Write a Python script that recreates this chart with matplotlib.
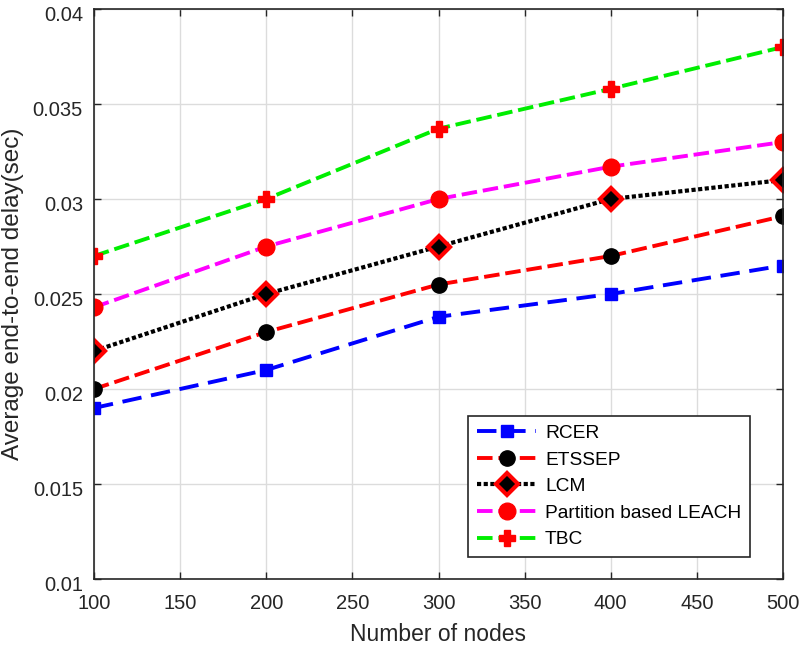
import matplotlib
matplotlib.use('Agg')
import matplotlib.pyplot as plt
import matplotlib.transforms as mtransforms

plt.rcParams['font.family'] = ['Liberation Sans', 'DejaVu Sans']

nodes = [100, 200, 300, 400, 500]
rcer = [0.019, 0.021, 0.0238, 0.025, 0.0265]
etssep = [0.020, 0.023, 0.0255, 0.027, 0.0291]
lcm = [0.022, 0.025, 0.0275, 0.030, 0.031]
partition = [0.0243, 0.0275, 0.030, 0.0317, 0.033]
tbc = [0.027, 0.030, 0.0337, 0.0358, 0.038]
ytick_vals = [0.01, 0.015, 0.02, 0.025, 0.03, 0.035, 0.04]
ytick_labels = ['0.01', '0.015', '0.02', '0.025', '0.03', '0.035', '0.04']

fig = plt.figure(figsize=(8, 6.47), dpi=100)
# axes box: x 94-783 px, y 9-579 px
ax = fig.add_axes([94 / 800, 1 - 579 / 647, 689 / 800, 570 / 647])

ax.plot(nodes, rcer, color='#0000ff', ls=(0, (5, 2.5)), lw=2.8,
        marker='s', ms=9, mfc='#0000ff', mec='#0000ff', label='RCER')
ax.plot(nodes, etssep, color='#ff0000', ls=(0, (4, 1.5)), lw=2.8,
        marker='o', ms=11, mfc='k', mec='k', label='ETSSEP')
ax.plot(nodes, lcm, color='k', ls=(0, (1, 0.6)), lw=3.0,
        marker='D', ms=11, mfc='k', mec='#ff0000', mew=3, label='LCM')
ax.plot(nodes, partition, color='#ff00ff', ls=(0, (4, 1.5)), lw=2.8,
        marker='o', ms=12, mfc='#ff0000', mec='#ff0000', label='Partition based LEACH')
ax.plot(nodes, tbc, color='#00ee00', ls=(0, (4, 1.5)), lw=2.8,
        marker='P', ms=11, mfc='#ff0000', mec='#ff0000', label='TBC')

ax.set_xlim(100, 500)
ax.set_ylim(0.01, 0.04)
ax.set_xticks(range(100, 501, 50))
ax.set_yticks(ytick_vals)
ax.set_yticklabels(ytick_labels)
ax.grid(True, color='#dcdcdc', lw=1)
ax.set_axisbelow(True)
ax.tick_params(direction='in', length=5, width=1, labelsize=14.5, colors='#262626',
               top=True, right=True)
ax.tick_params(axis='x', pad=11)
ax.tick_params(axis='y', pad=8)
shift = mtransforms.ScaledTranslation(0, -4.5 / 100, fig.dpi_scale_trans)
for lab in ax.get_yticklabels():
    lab.set_transform(lab.get_transform() + shift)
for s in ax.spines.values():
    s.set_linewidth(1.2)
    s.set_color('#262626')

ax.set_xlabel('Number of nodes', fontsize=16.5, color='#262626')
ax.set_ylabel('Average end-to-end delay(sec)', fontsize=17.5, color='#262626')
ax.xaxis.set_label_coords(0.5, -0.078)
ax.yaxis.set_label_coords(-0.102, 0.5)

leg = ax.legend(loc='lower right', bbox_to_anchor=(0.952, 0.0386), borderaxespad=0,
                fontsize=13.8, handlelength=3.1, labelspacing=0.48, borderpad=0.45,
                handletextpad=0.45, fancybox=False, framealpha=1)
leg.get_frame().set_edgecolor('#262626')
leg.get_frame().set_linewidth(1.2)

plt.savefig('out.png')
